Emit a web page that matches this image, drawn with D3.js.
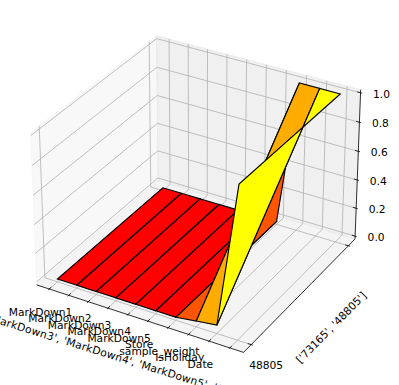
<!DOCTYPE html>
<meta charset="utf-8">
<style>
  html, body { margin: 0; padding: 0; background: #fff; }
  svg { display: block; }
  text { font-family: "DejaVu Sans"; font-size: 10.7px; fill: #000; }
</style>

<!-- Load d3.js -->
<script src="https://d3js.org/d3.v7.min.js"></script>

<div id="my_dataviz"></div>

<script>

  // data
  const xValues = [0, 1, 2, 3, 4, 5, 6, 7, 8, 9];
  const yValues = [0, 1];
  const zFront = [0, 0, 0, 0, 0, 0, 0, 0.02, 0.037, 1.02];
  const zBack = [0, 0, 0, 0, 0, 0, 0, 1.01, 1.01, 1.01];
  const xTickLabels = ["MarkDown1", "MarkDown2", "MarkDown3", "MarkDown4", "MarkDown5", "Store", "sample_weight", "IsHoliday", "Date"];
  const yTickLabels = ["48805"];
  const zTicks = [0, 0.2, 0.4, 0.6, 0.8, 1];
  const xTitle = "['MarkDown1', 'MarkDown2', 'MarkDown3', 'MarkDown4', 'MarkDown5', 'Store', 'sample_weight', 'IsHoliday', 'Date']";
  const yTitle = "['73165', '48805']";

  const width = 399, height = 385;

  const svg = d3.select("#my_dataviz")
    .append("svg")
    .attr("width", width)
    .attr("height", height);

  // axis limits, same padding matplotlib puts around a 3d box
  const xLim = [-0.45, 9.45], yLim = [-0.05, 1.05], zLim = [0, 1];
  const pad = l => (l[1] - l[0]) / 48;
  const xBox = [xLim[0] - pad(xLim), xLim[1] + pad(xLim)];
  const yBox = [yLim[0] - pad(yLim), yLim[1] + pad(yLim)];
  const zBox = [zLim[0] - pad(zLim), zLim[1] + pad(zLim)];

  const x = d3.scaleLinear().domain(xBox).range([-0.5, 0.5]);
  const y = d3.scaleLinear().domain(yBox).range([-0.5, 0.5]);
  const z = d3.scaleLinear().domain(zBox).range([-0.36, 0.36]);

  // camera, elev 30 azim -60 dist 10
  const dist = 10;
  const U = [0.866025, 0.5, 0];
  const V = [-0.25, 0.433013, 0.866025];
  const W = [0.433013, -0.75, 0.5];
  const dot = (a, b) => a[0] * b[0] + a[1] * b[1] + a[2] * b[2];
  const screenX = d3.scaleLinear().domain([-0.1, 0.1]).range([198.3 - 237.2, 198.3 + 237.2]);
  const screenY = d3.scaleLinear().domain([-0.1, 0.1]).range([187.5 + 242, 187.5 - 242]);

  function project(px, py, pz) {
    const p = [x(px), y(py), z(pz)];
    const d = dist - dot(W, p);
    return [screenX(dot(U, p) / d), screenY(dot(V, p) / d), d];
  }

  const line = d3.line();
  const path3d = pts => line(pts.map(p => project(p[0], p[1], p[2]).slice(0, 2)));

  // panes
  const [x0, x1] = xBox, [y0, y1] = yBox, [z0, z1] = zBox;
  const panes = [
    { pts: [[x0, y0, z0], [x0, y1, z0], [x0, y1, z1], [x0, y0, z1]], c: 0.95 },
    { pts: [[x0, y1, z0], [x1, y1, z0], [x1, y1, z1], [x0, y1, z1]], c: 0.90 },
    { pts: [[x0, y0, z0], [x1, y0, z0], [x1, y1, z0], [x0, y1, z0]], c: 0.925 }
  ];
  svg.selectAll("path.pane")
    .data(panes)
    .join("path")
    .attr("class", "pane")
    .attr("d", d => path3d(d.pts) + "Z")
    .attr("fill", d => d3.gray(d.c * 100))
    .attr("fill-opacity", 0.5)
    .attr("stroke", d => d3.gray(d.c * 100))
    .attr("stroke-opacity", 0.5);

  // grid
  const gridLines = [];
  xValues.forEach(v => gridLines.push([[v, y0, z0], [v, y1, z0], [v, y1, z1]]));
  yValues.forEach(v => gridLines.push([[x1, v, z0], [x0, v, z0], [x0, v, z1]]));
  zTicks.forEach(v => gridLines.push([[x0, y0, v], [x0, y1, v], [x1, y1, v]]));
  svg.selectAll("path.grid")
    .data(gridLines)
    .join("path")
    .attr("class", "grid")
    .attr("d", path3d)
    .attr("fill", "none")
    .attr("stroke", "#b0b0b0")
    .attr("stroke-width", 0.8);

  // axis lines
  const axisLines = [
    [[x0, y0, z0], [x1, y0, z0]],
    [[x1, y0, z0], [x1, y1, z0]],
    [[x1, y1, z0], [x1, y1, z1]]
  ];
  svg.selectAll("path.axis")
    .data(axisLines)
    .join("path")
    .attr("class", "axis")
    .attr("d", path3d)
    .attr("fill", "none")
    .attr("stroke", "#000")
    .attr("stroke-width", 0.8);

  // ticks
  const dx = (xLim[1] - xLim[0]) / 12, dy = (yLim[1] - yLim[0]) / 12;
  const tickLines = [];
  xValues.forEach(v => tickLines.push([[v, y0 - 0.1 * dy, z0], [v, y0 + 0.2 * dy, z0]]));
  yValues.forEach(v => tickLines.push([[x1 + 0.1 * dx, v, z0], [x1 - 0.2 * dx, v, z0]]));
  zTicks.forEach(v => tickLines.push([[x1 + 0.1 * dx, y1, v], [x1 - 0.2 * dx, y1, v]]));
  svg.selectAll("path.tick")
    .data(tickLines)
    .join("path")
    .attr("class", "tick")
    .attr("d", path3d)
    .attr("fill", "none")
    .attr("stroke", "#000")
    .attr("stroke-width", 0.8);

  // tick labels
  const addLabel = (pos, ox, oy, label) => svg.append("text")
    .attr("x", pos[0] + ox)
    .attr("y", pos[1] + oy)
    .attr("text-anchor", "middle")
    .attr("dominant-baseline", "central")
    .text(label);

  xTickLabels.forEach((t, i) => addLabel(project(xValues[i], y0, z0), -8.7, 23.5, t));
  yTickLabels.forEach((t, i) => addLabel(project(x1, yValues[i], z0), 15, 20.5, t));
  zTicks.forEach(v => addLabel(project(x1, y1, v), 21, 1.5, v.toFixed(1)));

  // axis titles, rotated along their axis
  function addTitle(a, b, ox, oy, turn, spacing, label) {
    const pa = project(a[0], a[1], a[2]), pb = project(b[0], b[1], b[2]);
    const angle = Math.atan2(pb[1] - pa[1], pb[0] - pa[0]) * 180 / Math.PI + turn;
    const cx = (pa[0] + pb[0]) / 2 + ox, cy = (pa[1] + pb[1]) / 2 + oy;
    svg.append("text")
      .attr("transform", `translate(${cx},${cy})rotate(${angle})`)
      .attr("text-anchor", "middle")
      .attr("dominant-baseline", "central")
      .style("letter-spacing", spacing + "px")
      .text(label);
  }
  addTitle([x0, y0, z0], [x1, y0, z0], -1.5, 45.2, -0.8, 0.2, xTitle);
  addTitle([x1, y0, z0], [x1, y1, z0], 32, 32, 0, 0, yTitle);

  // surface, one facet per cell, far ones first
  const facets = d3.pairs(xValues.map((v, i) => i)).map(([i, j]) => {
    const pts = [
      [xValues[i], yValues[0], zFront[i]],
      [xValues[j], yValues[0], zFront[j]],
      [xValues[j], yValues[1], zBack[j]],
      [xValues[i], yValues[1], zBack[i]]
    ];
    return {
      pts,
      level: d3.mean(pts, p => p[2]),
      depth: d3.mean(pts, p => project(p[0], p[1], p[2])[2])
    };
  }).sort((a, b) => b.depth - a.depth);

  const color = d3.scaleLinear()
    .domain([0, d3.max(facets, d => d.level)])
    .range(["#ff0000", "#ffff00"]);

  svg.selectAll("path.facet")
    .data(facets)
    .join("path")
    .attr("class", "facet")
    .attr("d", d => path3d(d.pts) + "Z")
    .attr("fill", d => color(d.level))
    .attr("stroke", "#000")
    .attr("stroke-width", 1.15)
    .attr("stroke-linejoin", "miter");

</script>
